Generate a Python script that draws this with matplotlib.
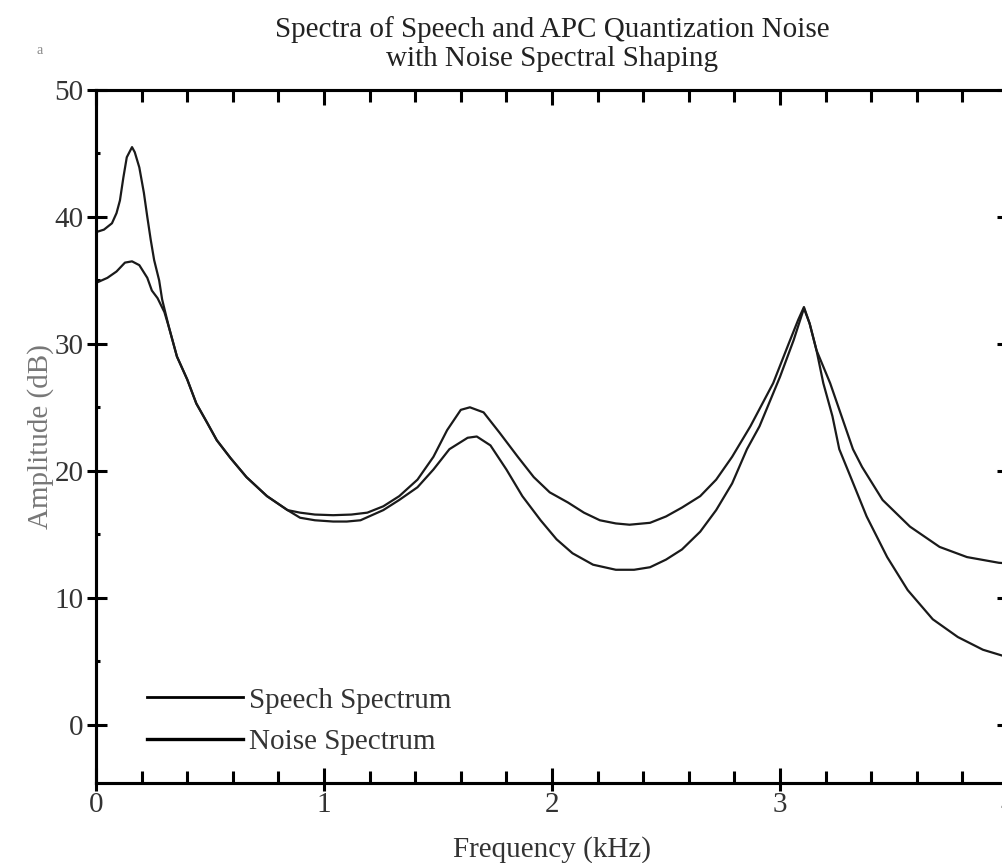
import matplotlib
matplotlib.use("Agg")
import matplotlib.pyplot as plt
from matplotlib.ticker import MultipleLocator, NullFormatter

# ---- data ----
speech_x = [0, 0.035, 0.07, 0.09, 0.105, 0.12, 0.135, 0.158, 0.17, 0.19, 0.21, 0.225,
            0.24, 0.255, 0.277, 0.29, 0.32, 0.355, 0.40, 0.44, 0.487, 0.53, 0.59, 0.66,
            0.75, 0.84, 0.895, 0.96, 1.04, 1.10, 1.16, 1.21, 1.26, 1.33, 1.41, 1.48,
            1.55, 1.63, 1.67, 1.73, 1.80, 1.87, 1.95, 2.02, 2.09, 2.18, 2.28, 2.36,
            2.43, 2.50, 2.57, 2.65, 2.72, 2.79, 2.855, 2.91, 3.0, 3.06, 3.105, 3.13,
            3.16, 3.19, 3.23, 3.26, 3.31, 3.38, 3.47, 3.56, 3.67, 3.78, 3.89, 4.0]
speech_y = [38.8, 39.0, 39.5, 40.3, 41.3, 43.1, 44.7, 45.5, 45.1, 43.9, 41.9, 40.0,
            38.2, 36.6, 35.0, 33.5, 31.3, 29.0, 27.2, 25.3, 23.8, 22.4, 21.0, 19.5,
            18.0, 16.9, 16.3, 16.1, 16.0, 16.0, 16.1, 16.5, 16.9, 17.7, 18.7, 20.1,
            21.7, 22.6, 22.7, 22.0, 20.1, 18.0, 16.1, 14.6, 13.5, 12.6, 12.2, 12.2,
            12.4, 13.0, 13.8, 15.2, 16.9, 19.0, 21.7, 23.5, 27.4, 30.3, 32.8, 31.6,
            29.5, 26.9, 24.3, 21.7, 19.5, 16.4, 13.2, 10.6, 8.3, 6.9, 5.9, 5.3]

noise_x = [0, 0.05, 0.09, 0.127, 0.158, 0.19, 0.225, 0.245, 0.27, 0.30, 0.32, 0.355,
           0.40, 0.44, 0.487, 0.53, 0.59, 0.66, 0.75, 0.84, 0.895, 0.96, 1.04, 1.12,
           1.19, 1.26, 1.33, 1.41, 1.48, 1.54, 1.60, 1.64, 1.70, 1.77, 1.85, 1.92,
           1.99, 2.07, 2.14, 2.21, 2.28, 2.34, 2.43, 2.50, 2.57, 2.65, 2.72, 2.79,
           2.87, 2.97, 3.04, 3.08, 3.105, 3.13, 3.16, 3.22, 3.27, 3.32, 3.36, 3.45,
           3.57, 3.70, 3.82, 3.96, 4.0]
noise_y = [34.8, 35.2, 35.7, 36.4, 36.5, 36.2, 35.2, 34.2, 33.6, 32.5, 31.3, 29.0,
           27.2, 25.3, 23.8, 22.4, 21.0, 19.5, 18.0, 16.9, 16.7, 16.55, 16.5, 16.55,
           16.7, 17.2, 18.0, 19.3, 21.1, 23.2, 24.8, 25.0, 24.6, 23.0, 21.1, 19.5,
           18.3, 17.5, 16.7, 16.1, 15.85, 15.75, 15.9, 16.4, 17.1, 18.0, 19.3, 21.1,
           23.5, 26.9, 30.1, 31.9, 32.9, 31.6, 29.5, 26.9, 24.3, 21.7, 20.3, 17.7,
           15.6, 14.0, 13.2, 12.75, 12.7]

x_ticks = [0, 1, 2, 3, 4]
x_tick_labels = ["0", "1", "2", "3", "4"]
y_ticks = [0, 10, 20, 30, 40, 50]
y_tick_labels = ["0", "10", "20", "30", "40", "50"]

title_text = "Spectra of Speech and APC Quantization Noise\nwith Noise Spectral Shaping"
xlabel_text = "Frequency (kHz)"
ylabel_text = "Amplitude (dB)"
series_labels = ["Speech Spectrum", "Noise Spectrum"]

# ---- figure ----
plt.rcParams['font.family'] = ['Liberation Serif', 'DejaVu Serif']
W, H = 1003, 863
fig = plt.figure(figsize=(W / 100, H / 100), dpi=100)
ax = fig.add_axes([96 / W, 1 - 783 / H, 912 / W, 693 / H])

ax.plot(speech_x, speech_y, color='#1a1a1a', lw=1.6, label=series_labels[0])
ax.plot(noise_x, noise_y, color='#1a1a1a', lw=1.6, label=series_labels[1])

ax.set_xlim(0, 4)
ax.set_ylim(-4.6, 50)

for s in ax.spines.values():
    s.set_linewidth(2.2)
    s.set_color('black')

# primary axes: outward major ticks + labels on bottom/left
ax.set_xticks(x_ticks)
ax.set_xticklabels(x_tick_labels)
ax.set_yticks(y_ticks)
ax.set_yticklabels(y_tick_labels)
ax.tick_params(axis='x', which='major', direction='out', length=5.8, width=2.2,
               labelsize=21, labelcolor='#333333', pad=1)
ax.tick_params(axis='y', which='major', direction='out', length=6.5, width=2.2,
               labelsize=21, labelcolor='#333333', pad=2.5)


def inward(sec, axis, locs, minor_step, major_len, minor_len):
    if axis == 'x':
        sec.set_xticks(locs)
        sec.xaxis.set_minor_locator(MultipleLocator(minor_step))
        sec.xaxis.set_major_formatter(NullFormatter())
    else:
        sec.set_yticks(locs)
        sec.yaxis.set_minor_locator(MultipleLocator(minor_step))
        sec.yaxis.set_major_formatter(NullFormatter())
    sec.tick_params(which='major', direction='in', length=major_len, width=2.2)
    sec.tick_params(which='minor', direction='in', length=minor_len, width=2.2)
    for s in sec.spines.values():
        s.set_linewidth(2.2)


for loc in ['top', 'bottom']:
    sx = ax.secondary_xaxis(loc)
    inward(sx, 'x', x_ticks, 0.2, 10.8, 8.6)
for loc in ['left', 'right']:
    sy = ax.secondary_yaxis(loc)
    inward(sy, 'y', y_ticks, 5, 8.0, 3.0)

ax.set_title(title_text, fontsize=21, color='#222222', linespacing=1.15, pad=17)
ax.set_xlabel(xlabel_text, fontsize=21, color='#333333', labelpad=13)
ax.set_ylabel(ylabel_text, fontsize=21, color='#777777', labelpad=0)

leg = ax.legend(loc='lower left', bbox_to_anchor=(0.056, 0.04), frameon=False,
                fontsize=21, handlelength=3.3, handletextpad=0.2, labelspacing=0.52,
                borderpad=0, borderaxespad=0)
for t in leg.get_texts():
    t.set_color('#333333')
for ln, w in zip(leg.get_lines(), [2.0, 2.4]):
    ln.set_linewidth(w)
    ln.set_color('black')

fig.text(40 / W, 1 - 50 / H, "a", fontsize=10, color='#888888', ha='center', va='center')

fig.savefig("out.png", dpi=100)
